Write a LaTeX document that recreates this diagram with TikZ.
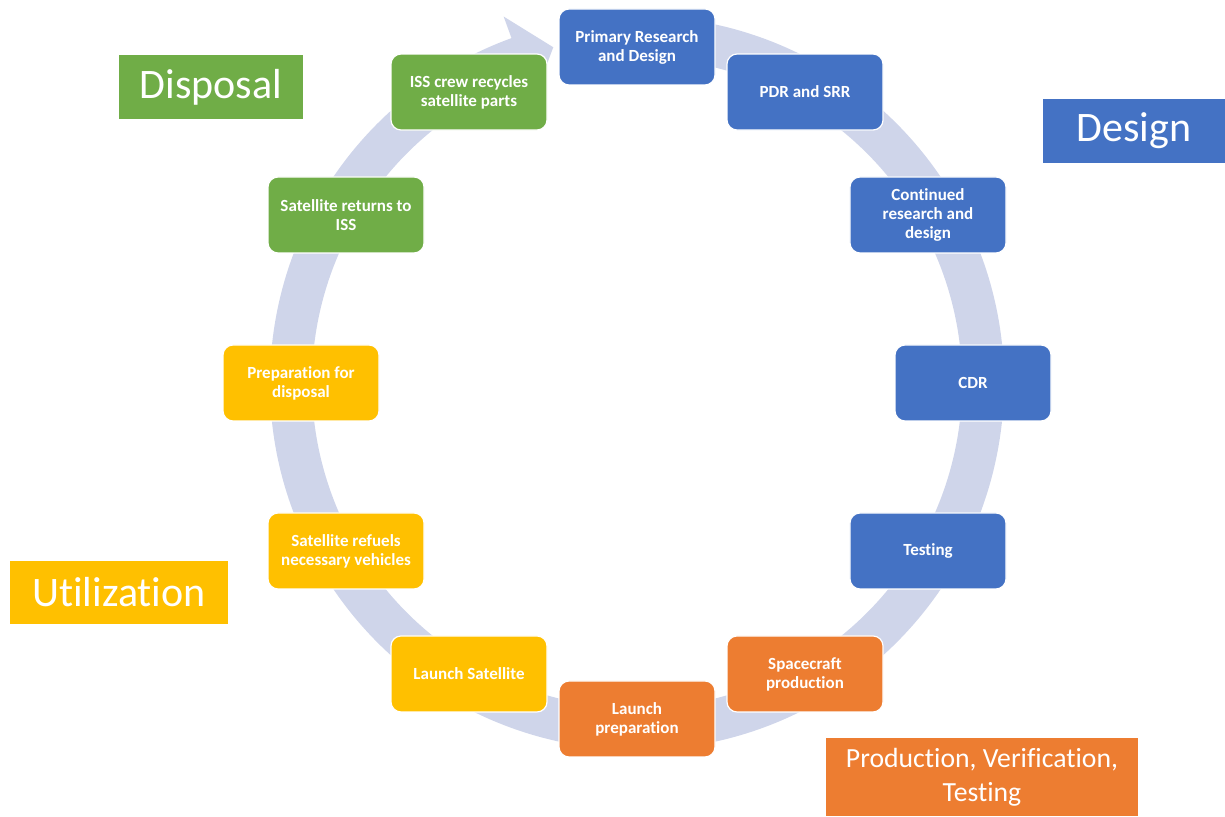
\documentclass[tikz,border=0pt]{standalone}
\usepackage{fontspec}
\setmainfont{Carlito}[Ligatures=NoCommon]
\definecolor{cblue}{HTML}{4472C4}
\definecolor{corange}{HTML}{ED7D31}
\definecolor{cyellow}{HTML}{FFC000}
\definecolor{cgreen}{HTML}{70AD47}
\definecolor{cband}{HTML}{CFD5EA}
\begin{document}
\begin{tikzpicture}[x=1pt,y=1pt,
  stage/.style={rounded corners=10pt, draw=white, line width=1.2pt,
    minimum width=156pt, minimum height=76pt, text=white, align=center,
    inner sep=0pt, font=\bfseries\fontsize{17}{19}\selectfont},
  phase/.style={draw=none, text=white, align=center, inner sep=0pt,
    font=\fontsize{42}{50}\selectfont}]
\useasboundingbox (0,0) rectangle (1225,816);

% circular arrow band behind the stages
\begin{scope}[shift={(637,433)}]
  \fill[cband] (80:367) arc[start angle=80, end angle=-250, radius=367]
    -- (-250:390) -- (-256:346) -- (-250:302) -- (-250:325)
    arc[start angle=-250, end angle=80, radius=325] -- cycle;

  % design stages
  \node[stage, fill=cblue] (prd) at (90:336) {Primary Research\\and Design};
  \node[stage, fill=cblue] (pdr) at (60:336) {PDR and SRR};
  \node[stage, fill=cblue] (crd) at (30:336) {Continued\\research and\\design};
  \node[stage, fill=cblue] (cdr) at (0:336) {CDR};
  \node[stage, fill=cblue] (tst) at (-30:336) {Testing};
  % production stages
  \node[stage, fill=corange] (scp) at (-60:336) {Spacecraft\\production};
  \node[stage, fill=corange] (lpr) at (-90:336) {Launch\\preparation};
  % utilization stages
  \node[stage, fill=cyellow] (lsat) at (-120:336) {Launch Satellite};
  \node[stage, fill=cyellow] (ref) at (-150:336) {Satellite refuels\\necessary vehicles};
  \node[stage, fill=cyellow] (pfd) at (180:336) {Preparation for\\disposal};
  % disposal stages
  \node[stage, fill=cgreen] (ret) at (150:336) {Satellite returns to\\ISS};
  \node[stage, fill=cgreen] (rec) at (120:336) {ISS crew recycles\\satellite parts};
\end{scope}

% phase labels
\node[phase, fill=cgreen, minimum width=184pt, minimum height=64pt] (disposal) at (211,729) {\raisebox{-3pt}{Disposal}};
\node[phase, fill=cblue, minimum width=182pt, minimum height=64pt] (design) at (1134,685) {\raisebox{-3pt}{Design}};
\node[phase, fill=cyellow, minimum width=218pt, minimum height=63pt] (util) at (119,223.5) {Utilization};
\node[phase, fill=corange, minimum width=312pt, minimum height=78pt,
  font=\fontsize{27.7}{34}\selectfont] (prod) at (982,39) {Production, Verification,\\Testing};
\end{tikzpicture}
\end{document}
